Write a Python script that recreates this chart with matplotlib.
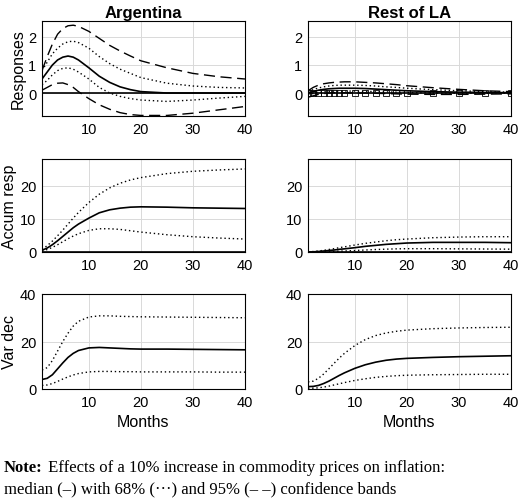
import matplotlib
matplotlib.use("Agg")
import matplotlib.pyplot as plt

months = [1, 2, 3, 4, 5, 6, 7, 8, 10, 12, 14, 16, 18, 20, 25, 30, 35, 40]

# Argentina responses
arg_med = [0.5, 0.75, 1.0, 1.18, 1.28, 1.32, 1.28, 1.18, 0.9, 0.6, 0.38, 0.22, 0.12, 0.05, 0.0, 0.0, 0.0, 0.0]
arg_u68 = [0.8, 1.1, 1.4, 1.6, 1.75, 1.83, 1.85, 1.8, 1.6, 1.3, 1.05, 0.85, 0.7, 0.55, 0.35, 0.25, 0.2, 0.18]
arg_l68 = [0.3, 0.45, 0.65, 0.8, 0.88, 0.9, 0.85, 0.75, 0.5, 0.2, 0.0, -0.12, -0.2, -0.25, -0.3, -0.25, -0.18, -0.12]
arg_u95 = [0.8, 1.3, 1.75, 2.1, 2.3, 2.4, 2.42, 2.38, 2.2, 1.95, 1.7, 1.5, 1.32, 1.15, 0.9, 0.7, 0.58, 0.5]
arg_l95 = [0.1, 0.2, 0.3, 0.35, 0.36, 0.3, 0.2, 0.05, -0.2, -0.42, -0.58, -0.7, -0.77, -0.8, -0.8, -0.72, -0.6, -0.48]
# Rest of LA responses
rla_med = [0.0, 0.05, 0.1, 0.13, 0.15, 0.16, 0.17, 0.17, 0.17, 0.16, 0.14, 0.12, 0.1, 0.08, 0.05, 0.03, 0.02, 0.01]
rla_u68 = [0.05, 0.12, 0.18, 0.22, 0.25, 0.27, 0.28, 0.28, 0.28, 0.27, 0.25, 0.22, 0.2, 0.17, 0.12, 0.08, 0.05, 0.03]
rla_l68 = [-0.05, -0.02, 0.02, 0.04, 0.06, 0.07, 0.07, 0.07, 0.07, 0.06, 0.05, 0.04, 0.03, 0.02, 0.0, -0.01, -0.01, -0.01]
rla_u95 = [0.08, 0.2, 0.28, 0.33, 0.36, 0.38, 0.39, 0.4, 0.4, 0.38, 0.36, 0.33, 0.3, 0.26, 0.19, 0.13, 0.08, 0.05]
rla_l95 = [-0.15, -0.1, -0.05, -0.02, 0.0, 0.01, 0.01, 0.01, 0.0, 0.0, -0.01, -0.02, -0.03, -0.04, -0.05, -0.05, -0.04, -0.03]

# Accumulated responses
acc_arg_med = [0.5, 1.2, 2.2, 3.4, 4.7, 6.0, 7.3, 8.4, 10.2, 11.8, 12.7, 13.2, 13.5, 13.6, 13.5, 13.3, 13.2, 13.1]
acc_arg_u68 = [0.8, 1.9, 3.3, 4.9, 6.6, 8.4, 10.2, 11.9, 14.9, 17.4, 19.3, 20.7, 21.7, 22.4, 23.6, 24.3, 24.7, 25.0]
acc_arg_l68 = [0.3, 0.75, 1.4, 2.2, 3.1, 4.0, 4.8, 5.5, 6.5, 7.0, 7.0, 6.8, 6.4, 6.0, 5.2, 4.6, 4.2, 3.9]
acc_rla_med = [0.0, 0.05, 0.15, 0.3, 0.45, 0.6, 0.8, 0.95, 1.3, 1.7, 2.0, 2.3, 2.5, 2.7, 2.9, 2.9, 2.9, 2.8]
acc_rla_u68 = [0.05, 0.15, 0.3, 0.5, 0.75, 1.0, 1.3, 1.55, 2.1, 2.6, 3.0, 3.4, 3.7, 3.9, 4.3, 4.5, 4.6, 4.6]
acc_rla_l68 = [-0.05, -0.05, 0.0, 0.05, 0.1, 0.2, 0.25, 0.3, 0.45, 0.6, 0.75, 0.85, 0.95, 1.0, 1.0, 0.95, 0.9, 0.85]

# Variance decomposition
vd_arg_med = [4.0, 4.5, 6.0, 8.5, 11.0, 13.3, 15.0, 16.2, 17.3, 17.5, 17.3, 17.1, 16.9, 16.8, 16.8, 16.7, 16.6, 16.5]
vd_arg_u68 = [8.0, 9.0, 12.0, 16.0, 20.0, 23.5, 26.5, 28.5, 30.3, 30.8, 30.8, 30.6, 30.5, 30.4, 30.3, 30.2, 30.1, 30.0]
vd_arg_l68 = [1.5, 1.7, 2.3, 3.2, 4.2, 5.1, 5.9, 6.5, 7.2, 7.4, 7.4, 7.3, 7.3, 7.2, 7.2, 7.2, 7.1, 7.1]
vd_rla_med = [1.0, 1.1, 1.5, 2.3, 3.3, 4.5, 5.7, 6.8, 8.7, 10.2, 11.3, 12.1, 12.6, 12.9, 13.3, 13.6, 13.8, 14.0]
vd_rla_u68 = [3.0, 3.3, 4.5, 6.3, 8.5, 10.8, 13.0, 15.0, 18.3, 20.8, 22.5, 23.6, 24.3, 24.8, 25.4, 25.7, 25.9, 26.0]
vd_rla_l68 = [0.3, 0.35, 0.5, 0.8, 1.2, 1.7, 2.2, 2.7, 3.6, 4.3, 4.9, 5.3, 5.6, 5.8, 6.0, 6.1, 6.2, 6.2]

col_titles = ["Argentina", "Rest of LA"]
row_labels = ["Responses", "Accum resp", "Var dec"]

plt.rcParams['font.family'] = ['Liberation Sans', 'DejaVu Sans']
fig = plt.figure(figsize=(5.2, 5.02), dpi=100)
W, H = 520, 502
xl = [42, 308]
aw = 203
rows = [(22, 117), (160, 253), (295, 390)]
axes = {}
for r, (t, b) in enumerate(rows):
    for c in range(2):
        ax = fig.add_axes([xl[c] / W, 1 - b / H, aw / W, (b - t) / H])
        ax.set_xlim(1, 40)
        ax.set_xticks([10, 20, 30, 40])
        ax.grid(True, color='#d9d9d9', lw=0.7)
        ax.set_axisbelow(True)
        ax.tick_params(direction='in', length=0, labelsize=10.5, pad=4)
        for s in ax.spines.values():
            s.set_linewidth(0.8)
        axes[(r, c)] = ax

dot = dict(color='k', lw=1.0, ls=(0, (1, 2)))
dash = dict(color='k', lw=1.0, ls=(0, (8, 4)))
sol = dict(color='k', lw=1.2)

for c, (m, u6, l6, u9, l9) in enumerate([(arg_med, arg_u68, arg_l68, arg_u95, arg_l95),
                                          (rla_med, rla_u68, rla_l68, rla_u95, rla_l95)]):
    ax = axes[(0, c)]
    ax.axhline(0, color='k', lw=1.2)
    ax.plot(months, u9, **dash); ax.plot(months, l9, **dash)
    ax.plot(months, u6, **dot); ax.plot(months, l6, **dot)
    ax.plot(months, m, **sol)
    if c == 1:
        ax.plot(months, [0] * len(months), ls='none', marker='s', ms=4, mfc='none', mec='k', mew=0.6)
    ax.set_ylim(-0.82, 2.57)
    ax.set_yticks([0, 1, 2])
    ax.set_title(col_titles[c], fontweight='bold', fontsize=12, pad=3)

for c, (m, u6, l6) in enumerate([(acc_arg_med, acc_arg_u68, acc_arg_l68), (acc_rla_med, acc_rla_u68, acc_rla_l68)]):
    ax = axes[(1, c)]
    ax.axhline(0, color='k', lw=1.2)
    ax.plot(months, u6, **dot); ax.plot(months, l6, **dot)
    ax.plot(months, m, **sol)
    ax.set_ylim(0, 28)
    ax.set_yticks([0, 10, 20])

for c, (m, u6, l6) in enumerate([(vd_arg_med, vd_arg_u68, vd_arg_l68), (vd_rla_med, vd_rla_u68, vd_rla_l68)]):
    ax = axes[(2, c)]
    ax.plot(months, u6, **dot); ax.plot(months, l6, **dot)
    ax.plot(months, m, **sol)
    ax.set_ylim(0, 40)
    ax.set_yticks([0, 20, 40])
    ax.set_xlabel("Months", fontsize=11.5)

for r in range(3):
    axes[(r, 0)].set_ylabel(row_labels[r], fontsize=11.5, labelpad=2)

fig.text(4 / W, 1 - 468 / H, "Note:", fontweight='bold', fontsize=12, family='Liberation Serif', va='center')
fig.text(44 / W, 1 - 468 / H, " Effects of a 10% increase in commodity prices on inflation:",
         fontsize=12, family='Liberation Serif', va='center')
fig.text(4 / W, 1 - 489 / H, "median (–) with 68% (···) and 95% (– –) confidence bands",
         fontsize=12, family='Liberation Serif', va='center')

fig.savefig("out.png", dpi=100)
